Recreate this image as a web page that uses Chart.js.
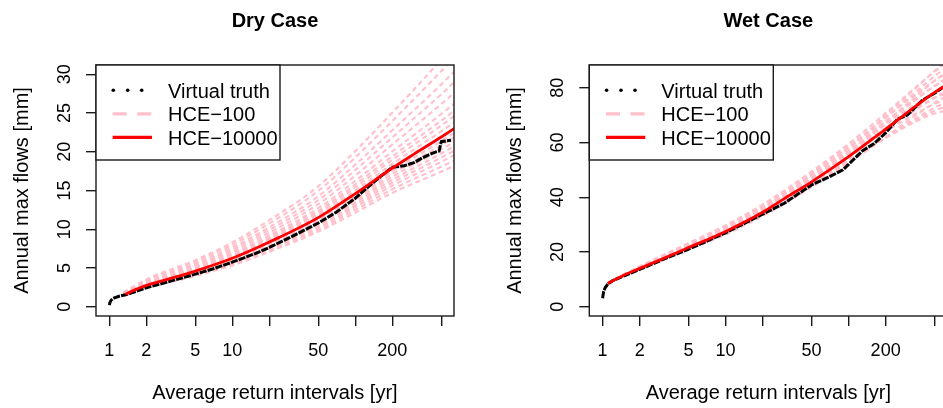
<!DOCTYPE html>
<html><head><meta charset="utf-8">
<script src="https://cdn.jsdelivr.net/npm/chart.js@4.4.1/dist/chart.umd.min.js"></script>
<style>
html,body{margin:0;padding:0;background:#fff;overflow:hidden;width:943px;height:408px;}
canvas{position:absolute;top:0;}
</style></head><body>
<canvas id="dry" width="470" height="408" style="left:0px"></canvas>
<canvas id="wet" width="490" height="408" style="left:470px"></canvas>
<script>
// ---------- shared axis data ----------
const xTickValues = [1, 2, 5, 10, 20, 50, 100, 200, 500];
const xTickLabels = ['1', '2', '5', '10', '', '50', '', '200', ''];
const legendLabels = ['Virtual truth', 'HCE\u2212100', 'HCE\u221210000'];

// ---------- Dry case ----------
const dryYTicks = [0, 5, 10, 15, 20, 25, 30];
const dryTruthT = [1.0, 1.01, 1.03, 1.06, 1.1, 1.2, 1.35, 1.5, 2, 3, 5, 7, 10, 15, 20, 30, 50, 70, 100, 130, 160, 200, 250, 300, 350, 420, 480, 500, 600];
const dryTruthQ = [0.2, 0.5, 0.8, 1.0, 1.15, 1.35, 1.55, 1.75, 2.45, 3.2, 4.2, 4.9, 5.75, 6.8, 7.65, 9.0, 10.8, 12.2, 14.0, 15.6, 16.8, 18.0, 18.2, 18.6, 19.2, 19.8, 20.1, 21.3, 21.5];
const dryRedT = [1.35, 1.5, 2, 3, 5, 10, 20, 50, 100, 200, 300, 500, 650];
const dryRedQ = [1.6, 1.95, 2.75, 3.55, 4.6, 6.25, 8.35, 11.5, 14.6, 17.9, 19.7, 21.9, 23.1];
const dryPinkT = [1.3, 2, 5, 10, 20, 50, 100, 200, 500, 650];
const dryPinkQ = [
  [1.34, 2.40, 3.97, 5.33, 7.09, 9.69, 12.15, 14.70, 17.43, 18.25],
  [1.37, 2.45, 4.06, 5.46, 7.27, 9.95, 12.50, 15.16, 18.08, 18.94],
  [1.39, 2.50, 4.15, 5.59, 7.45, 10.21, 12.85, 15.62, 18.71, 19.64],
  [1.41, 2.54, 4.23, 5.70, 7.60, 10.42, 13.14, 16.00, 19.25, 20.21],
  [1.43, 2.59, 4.30, 5.81, 7.75, 10.64, 13.43, 16.38, 19.78, 20.79],
  [1.44, 2.63, 4.37, 5.92, 7.90, 10.86, 13.72, 16.76, 20.31, 21.37],
  [1.46, 2.67, 4.45, 6.03, 8.05, 11.07, 14.02, 17.14, 20.84, 21.95],
  [1.48, 2.71, 4.53, 6.14, 8.20, 11.28, 14.31, 17.52, 21.37, 22.52],
  [1.50, 2.75, 4.60, 6.25, 8.35, 11.50, 14.60, 17.90, 21.90, 23.10],
  [1.53, 2.81, 4.71, 6.40, 8.56, 11.80, 15.01, 18.43, 22.64, 23.91],
  [1.55, 2.87, 4.81, 6.56, 8.77, 12.10, 15.42, 18.97, 23.39, 24.72],
  [1.58, 2.92, 4.90, 6.69, 8.95, 12.36, 15.77, 19.42, 24.02, 25.41],
  [1.61, 2.98, 5.02, 6.86, 9.19, 12.71, 16.24, 20.03, 24.87, 26.33],
  [1.65, 3.08, 5.20, 7.13, 9.55, 13.23, 16.94, 20.94, 26.15, 27.72],
  [1.70, 3.18, 5.38, 7.39, 9.91, 13.74, 17.64, 21.86, 27.42, 29.11],
  [1.74, 3.28, 5.56, 7.65, 10.27, 14.26, 18.34, 22.77, 28.69, 30.49],
  [1.80, 3.41, 5.80, 8.00, 10.75, 14.95, 19.27, 23.99, 30.40, 32.34],
  [1.85, 3.53, 6.01, 8.31, 11.17, 15.55, 20.09, 25.05, 31.89, 33.96]
];

// ---------- Wet case ----------
const wetYTicks = [0, 20, 40, 60, 80];
const wetTruthT = [1.0, 1.01, 1.02, 1.05, 1.1, 1.2, 1.5, 2, 3, 5, 10, 20, 30, 50, 70, 90, 100, 130, 160, 200, 250, 300, 400, 500, 600];
const wetTruthQ = [3.1, 4.5, 5.5, 7.0, 8.2, 9.5, 11.3, 13.6, 17.0, 21.0, 27.0, 33.8, 37.8, 44.5, 47.5, 50.0, 52.0, 57.0, 59.5, 63.5, 68.5, 70.0, 75.5, 78.0, 80.5];
const wetRedT = [1.1, 1.5, 2, 3, 5, 10, 20, 30, 50, 100, 200, 500, 650];
const wetRedQ = [8.5, 11.6, 14.0, 17.3, 21.6, 27.5, 34.5, 39.5, 45.6, 54.8, 64.9, 78.3, 81.5];
const wetPinkT = [1.1, 2, 5, 10, 20, 50, 100, 200, 500, 650];
const wetPinkQ = [
  [8.6, 14.2, 22.0, 28.1, 35.0, 45.6, 53.6, 61.7, 70.6, 71.7],
  [8.5, 14.0, 21.6, 27.5, 34.3, 44.9, 53.2, 61.7, 71.6, 73.4],
  [8.5, 13.8, 21.2, 27.0, 33.7, 44.3, 52.7, 61.7, 72.7, 75.0],
  [8.6, 14.3, 22.4, 28.6, 35.7, 46.7, 55.2, 63.9, 74.1, 75.8],
  [8.4, 13.7, 20.8, 26.4, 33.1, 43.7, 52.4, 62.0, 74.5, 77.4],
  [8.6, 14.4, 22.6, 28.9, 36.1, 47.3, 56.1, 65.2, 76.2, 78.2],
  [8.5, 14.1, 21.8, 27.8, 34.8, 45.8, 54.7, 64.3, 76.4, 79.1],
  [8.7, 14.5, 22.8, 29.2, 36.5, 47.9, 56.9, 66.5, 78.3, 80.7],
  [8.5, 13.9, 21.4, 27.2, 34.2, 45.2, 54.4, 64.6, 78.2, 81.5],
  [8.7, 14.6, 23.0, 29.4, 36.8, 48.5, 57.8, 67.8, 80.5, 83.1],
  [8.6, 14.3, 22.2, 28.3, 35.5, 47.0, 56.4, 66.9, 80.7, 84.0],
  [8.7, 14.7, 23.2, 29.7, 37.2, 49.0, 58.7, 69.1, 82.6, 85.6],
  [8.6, 14.2, 22.0, 28.1, 35.3, 46.8, 56.6, 67.5, 82.5, 86.4],
  [8.6, 14.4, 22.6, 28.9, 36.3, 48.1, 58.0, 69.1, 84.2, 88.0],
  [8.7, 14.7, 23.2, 29.7, 37.3, 49.4, 59.5, 70.7, 85.9, 89.7],
  [8.6, 14.3, 22.4, 28.6, 36.0, 47.9, 58.1, 69.8, 86.1, 90.5]
];

// ---------- styling ----------
const FONT = '"Liberation Sans", Arial, Helvetica, sans-serif';
const PINK = '#FFC0CB';
const RED = '#FF0000';
const INK = '#1a1a1a';

function pts(xs, ys) { return xs.map((x, i) => ({ x: x, y: ys[i] })); }

function buildDatasets(pinkT, pinkQ, truthT, truthQ, redT, redQ) {
  const ds = [];
  pinkQ.forEach((q, k) => ds.push({
    label: k === 0 ? legendLabels[1] : '', data: pts(pinkT, q),
    borderColor: PINK, borderWidth: 2.1, borderDash: [5, 3.5],
    pointRadius: 0, cubicInterpolationMode: 'monotone', fill: false, order: 3, clip: 0
  }));
  ds.push({
    label: legendLabels[0], data: pts(truthT, truthQ),
    borderColor: '#000', borderWidth: 3, borderDash: [7, 1.2],
    pointRadius: 0, tension: 0, fill: false, order: 2, clip: 0
  });
  ds.push({
    label: legendLabels[2], data: pts(redT, redQ),
    borderColor: RED, borderWidth: 2.8,
    pointRadius: 0, cubicInterpolationMode: 'monotone', fill: false, order: 1, clip: 0
  });
  return ds;
}

const rframe = {
  id: 'rframe',
  afterDraw(chart, args, o) {
    const ctx = chart.ctx, a = chart.chartArea;
    const xs = chart.scales.x, ys = chart.scales.y;
    const cx = (a.left + a.right) / 2, cy = (a.top + a.bottom) / 2;
    ctx.save();
    ctx.strokeStyle = INK; ctx.lineWidth = 1.4;
    ctx.strokeRect(a.left, a.top, a.right - a.left, a.bottom - a.top);
    ctx.fillStyle = '#000';
    ctx.textBaseline = 'alphabetic';
    ctx.textAlign = 'center';
    ctx.font = 'bold 20px ' + FONT;
    ctx.fillText(o.title, cx, 26.5);
    ctx.font = '18px ' + FONT;
    xTickValues.forEach((v, i) => {
      if (xTickLabels[i]) ctx.fillText(xTickLabels[i], xs.getPixelForValue(v), 356);
    });
    ctx.font = '20px ' + FONT;
    ctx.fillText(o.xTitle, cx, 399);
    ctx.font = '18px ' + FONT;
    o.yTicks.forEach(v => {
      ctx.save();
      ctx.translate(a.left - 26, ys.getPixelForValue(v));
      ctx.rotate(-Math.PI / 2);
      ctx.fillText(String(v), 0, 0);
      ctx.restore();
    });
    ctx.font = '20px ' + FONT;
    ctx.save();
    ctx.translate(a.left - 68.3, cy);
    ctx.rotate(-Math.PI / 2);
    ctx.fillText(o.yTitle, 0, 0);
    ctx.restore();
    // legend
    const lx = a.left, ly = a.top, lw = 184, lh = 95;
    ctx.fillStyle = '#fff';
    ctx.fillRect(lx, ly, lw, lh);
    ctx.strokeStyle = INK; ctx.lineWidth = 1.4;
    ctx.strokeRect(lx, ly, lw, lh);
    const rows = [ly + 25.3, ly + 48.8, ly + 72.3];
    ctx.fillStyle = '#000';
    [17.3, 31.7, 45.7].forEach(dx => { ctx.beginPath(); ctx.arc(lx + dx, rows[0], 1.8, 0, Math.PI * 2); ctx.fill(); });
    ctx.strokeStyle = PINK; ctx.lineWidth = 3.2; ctx.setLineDash([14, 10.5]);
    ctx.beginPath(); ctx.moveTo(lx + 16.7, rows[1]); ctx.lineTo(lx + 56, rows[1]); ctx.stroke();
    ctx.setLineDash([]);
    ctx.strokeStyle = RED; ctx.lineWidth = 3.2;
    ctx.beginPath(); ctx.moveTo(lx + 16.7, rows[2]); ctx.lineTo(lx + 56, rows[2]); ctx.stroke();
    ctx.fillStyle = '#000';
    ctx.font = '20px ' + FONT;
    ctx.textAlign = 'left';
    legendLabels.forEach((t, i) => ctx.fillText(t, lx + 72, rows[i] + 7.2));
    ctx.restore();
  }
};

function makeChart(id, opt) {
  return new Chart(document.getElementById(id), {
    type: 'line',
    data: { datasets: opt.datasets },
    options: {
      responsive: false, animation: false, devicePixelRatio: 1,
      layout: { padding: { left: 0, right: opt.rightPad, top: 65, bottom: 0 } },
      plugins: {
        legend: { display: false }, tooltip: { enabled: false }, title: { display: false },
        rframe: { title: opt.title, xTitle: 'Average return intervals [yr]', yTitle: 'Annual max flows [mm]', yTicks: opt.yTicks }
      },
      scales: {
        x: {
          type: 'logarithmic', min: 0.7792, max: 634.4,
          afterBuildTicks: s => { s.ticks = xTickValues.map(v => ({ value: v })); },
          afterFit: s => { s.height = 92; s.paddingLeft = 0; s.paddingRight = 0; },
          ticks: { display: false },
          grid: { drawOnChartArea: false, drawTicks: true, tickLength: 10, color: INK, lineWidth: 1.4 },
          border: { display: false }
        },
        y: {
          type: 'linear', min: opt.yMin, max: opt.yMax,
          afterBuildTicks: s => { s.ticks = opt.yTicks.map(v => ({ value: v })); },
          afterFit: s => { s.width = opt.yWidth; s.paddingTop = 0; s.paddingBottom = 0; },
          ticks: { display: false },
          grid: { drawOnChartArea: false, drawTicks: true, tickLength: 10, color: INK, lineWidth: 1.4 },
          border: { display: false }
        }
      }
    },
    plugins: [rframe]
  });
}

makeChart('dry', {
  datasets: buildDatasets(dryPinkT, dryPinkQ, dryTruthT, dryTruthQ, dryRedT, dryRedQ),
  title: 'Dry Case', yTicks: dryYTicks, yMin: -1.2, yMax: 31.2, yWidth: 96, rightPad: 16
});
makeChart('wet', {
  datasets: buildDatasets(wetPinkT, wetPinkQ, wetTruthT, wetTruthQ, wetRedT, wetRedQ),
  title: 'Wet Case', yTicks: wetYTicks, yMin: -3.4, yMax: 88.3, yWidth: 119.3, rightPad: 12.7
});
</script>
</body></html>
